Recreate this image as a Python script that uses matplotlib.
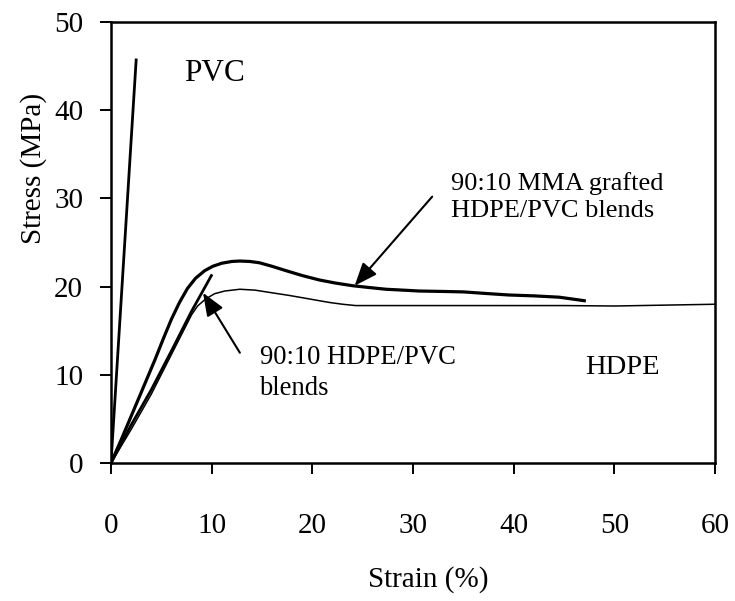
import matplotlib
matplotlib.use("Agg")
import matplotlib.pyplot as plt

plt.rcParams['font.family'] = ['Liberation Serif', 'DejaVu Serif']

# Tensile stress-strain curves
pvc_strain = [0, 2.5]
pvc_stress = [0, 45.7]

mma_strain = [0, 1, 2, 3, 4.4, 5.2, 6.0, 6.8, 7.6, 8.4, 9.3, 10.1, 11.0, 12.0,
              12.8, 13.8, 14.75, 16.0, 17.4, 19.0, 20.7, 22.3, 24.0, 25.6,
              27.3, 29.0, 30.6, 33.0, 35.0, 37.5, 39.5, 42.0, 44.5, 46.4, 47.0]
mma_stress = [0, 2.6, 5.3, 8.0, 11.8, 14.1, 16.3, 18.2, 19.8, 20.95, 21.8,
              22.3, 22.65, 22.85, 22.9, 22.85, 22.7, 22.3, 21.8, 21.25, 20.75,
              20.4, 20.1, 19.9, 19.7, 19.6, 19.5, 19.45, 19.4, 19.2, 19.05,
              18.95, 18.8, 18.5, 18.4]

blend_strain = [0, 2, 4, 6, 8, 9.97]
blend_stress = [0, 4.3, 8.3, 12.7, 17.2, 21.25]

hdpe_strain = [0, 2, 4, 6, 8, 8.6, 9.4, 10.3, 11.3, 12.8, 14.3, 15.7, 17.7,
               19.7, 21.7, 23.0, 24.3, 30, 37.5, 45, 50, 55, 60]
hdpe_stress = [0, 3.8, 7.8, 12.3, 16.8, 17.8, 18.6, 19.2, 19.5, 19.7, 19.6,
               19.35, 19.0, 18.6, 18.2, 18.0, 17.85, 17.85, 17.85, 17.85, 17.8,
               17.9, 18.0]

x_ticks = [0, 10, 20, 30, 40, 50, 60]
y_ticks = [0, 10, 20, 30, 40, 50]

fig = plt.figure(figsize=(7.35, 6.01), dpi=100)
ax = fig.add_axes([0.151, 0.2296, 0.822, 0.7338])

ax.plot(pvc_strain, pvc_stress, color='black', lw=2.0)
ax.plot(hdpe_strain, hdpe_stress, color='black', lw=1.1)
ax.plot(blend_strain, blend_stress, color='black', lw=2.0)
ax.plot(mma_strain, mma_stress, color='black', lw=2.3)

ax.set_xlim(0, 60)
ax.set_ylim(0, 50)
ax.set_xticks(x_ticks)
ax.set_yticks(y_ticks)
ax.tick_params(axis='both', direction='out', length=8, width=1.4,
               labelsize=21, color='black')
ax.tick_params(axis='x', pad=28)
ax.tick_params(axis='y', pad=12)
for s in ax.spines.values():
    s.set_linewidth(1.8)

ax.text(10.3, 44.2, 'PVC', fontsize=22.5, ha='center', va='center')
ax.text(50.8, 10.8, 'HDPE', fontsize=20.5, ha='center', va='center')

arrow = dict(arrowstyle='-|>,head_length=0.7,head_width=0.28', color='black',
             lw=1.5, mutation_scale=20, shrinkA=0, shrinkB=0)

# arrow tails drawn separately from the label text
ax.annotate('', xy=(24.2, 20.1), xytext=(31.9, 30.2), arrowprops=arrow)
ax.text(33.8, 30.2, '90:10 MMA grafted\nHDPE/PVC blends', fontsize=19,
        ha='left', va='center', linespacing=1.3)

ax.annotate('', xy=(9.14, 19.3), xytext=(12.8, 12.5), arrowprops=arrow)
ax.text(14.75, 10.2, '90:10 HDPE/PVC\nblends', fontsize=19.2,
        ha='left', va='center', linespacing=1.3)

fig.text(0.045, 0.72, 'Stress (MPa)', rotation=90, fontsize=21,
         ha='center', va='center')
fig.text(0.582, 0.035, 'Strain (%)', fontsize=21, ha='center', va='center')

fig.savefig('out.png', dpi=100)
